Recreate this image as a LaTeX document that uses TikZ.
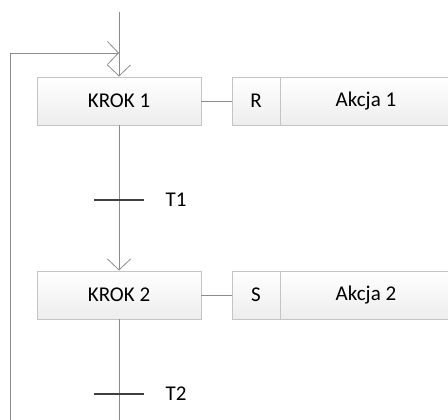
\documentclass[tikz,border=0pt]{standalone}
\usepackage{fontspec}
\setmainfont{Carlito}
\usetikzlibrary{arrows.meta}
\definecolor{wire}{HTML}{8C8C8C}
\definecolor{frame}{HTML}{C4C4C4}
\definecolor{bar}{HTML}{404040}
\begin{document}
\begin{tikzpicture}[x=1pt,y=-1pt,
  box/.style={draw=frame,top color=white,bottom color=black!7,line width=0.9pt,
    minimum height=48pt,inner sep=0pt,font=\fontsize{21}{23}\selectfont,text=black},
  link/.style={draw=wire,line width=0.8pt},
  open/.style={-{Straight Barb[length=11pt,width=23pt,line width=0.8pt]}},
  trans/.style={draw=bar,line width=1.1pt},
  lbl/.style={font=\fontsize{21}{23}\selectfont,text=black}]
\useasboundingbox (0,0) rectangle (448,420);
\begin{scope}
\clip (0,0) rectangle (448,420);
% steps
\node[box,minimum width=164pt] (k1) at (119,101) {KROK 1};
\node[box,minimum width=164pt] (k2) at (119,295) {KROK 2};
% actions
\node[box,minimum width=48pt] (q1) at (256,101) {R};
\node[box,minimum width=170pt,anchor=west] (a1) at (q1.east) {Akcja 1};
\node[box,minimum width=48pt] (q2) at (256,295) {S};
\node[box,minimum width=170pt,anchor=west] (a2) at (q2.east) {Akcja 2};
% coordinates of the flow
\coordinate (top) at (119,12);
\coordinate (join) at (119,53);
\coordinate (t1) at (119,200);
\coordinate (t2) at (119,394);
\coordinate (bot) at (119,420);
\coordinate (loopb) at (10,420);
\coordinate (loopt) at (10,53);
% connectors
\draw[link] (top) -- (join);
\draw[link,open] (join) -- (k1.north);
\draw[link,open] (loopb) -- (loopt) -- (join);
\draw[link] (k1.south) -- (t1);
\draw[link,open] (t1) -- (k2.north);
\draw[link] (k2.south) -- (bot);
\draw[link] (k1.east) -- (q1.west);
\draw[link] (k2.east) -- (q2.west);
% transitions
\draw[trans] ([xshift=-25pt]t1) coordinate (t1a) -- ([xshift=25pt]t1) coordinate (t1b);
\draw[trans] ([xshift=-25pt]t2) coordinate (t2a) -- ([xshift=25pt]t2) coordinate (t2b);
\node[lbl,anchor=west] (l1) at ([xshift=18pt]t1b) {T1};
\node[lbl,anchor=west] (l2) at ([xshift=18pt]t2b) {T2};
\end{scope}
\end{tikzpicture}
\end{document}
